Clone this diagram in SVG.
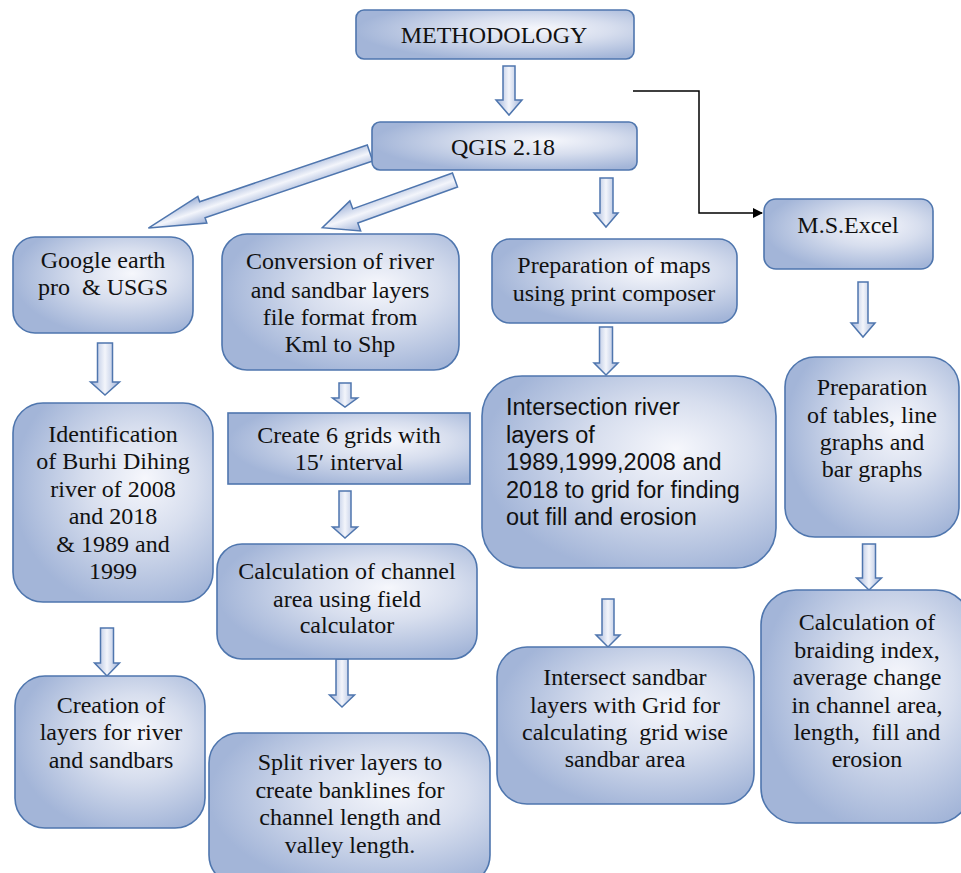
<svg xmlns="http://www.w3.org/2000/svg" width="961" height="873" viewBox="0 0 961 873">
<defs>
<radialGradient id="boxg" cx="0.62" cy="0.42" r="0.62" fx="0.66" fy="0.38">
<stop offset="0" stop-color="#f6f7fc"/>
<stop offset="0.45" stop-color="#d7deee"/>
<stop offset="1" stop-color="#a3b5d8"/>
</radialGradient>
<linearGradient id="arrg" x1="0" y1="0" x2="1" y2="0">
<stop offset="0" stop-color="#9fb2d8"/>
<stop offset="0.5" stop-color="#f3f5fb"/>
<stop offset="1" stop-color="#9fb2d8"/>
</linearGradient>
<linearGradient id="darrg" x1="0" y1="0" x2="0" y2="1">
<stop offset="0" stop-color="#9fb2d8"/>
<stop offset="0.5" stop-color="#f3f5fb"/>
<stop offset="1" stop-color="#9fb2d8"/>
</linearGradient>
<marker id="ah" markerWidth="10" markerHeight="10" refX="9" refY="5" orient="auto" markerUnits="userSpaceOnUse">
<path d="M0,0 L10,5 L0,10 Z" fill="#000"/>
</marker>
</defs>
<style>
.box{fill:url(#boxg);stroke:#4f76ae;stroke-width:1.6}
.arr{fill:url(#arrg);stroke:#4f76ae;stroke-width:1.5;stroke-linejoin:miter}
.darr{fill:url(#darrg);stroke:#4f76ae;stroke-width:1.5}
.t{font-family:"Liberation Serif","Times New Roman",serif;font-size:24px;fill:#111;text-anchor:middle;white-space:pre}
.s{font-family:"Liberation Sans",Arial,sans-serif;font-size:23.5px;fill:#111;white-space:pre}
.ln{fill:none;stroke:#000;stroke-width:1.5}
</style>
<rect width="961" height="873" fill="#fff"/>

<g id="connectors">
<polygon class="arr" points="503,66 515,66 515,100 522,100 509,115 496,100 503,100"/>
<polygon class="arr" points="600,178 613,178 613,213 618,213 606,227 594,213 600,213"/>
<polygon class="arr" points="858,282 868,282 868,323 875,323 863,337 851,323 858,323"/>
<polygon class="arr" points="97.5,343 112.5,343 112.5,382 119.5,382 105,395 90.5,382 97.5,382"/>
<polygon class="arr" points="339,383 351,383 351,398 357.5,398 345,407 332.5,398 339,398"/>
<polygon class="arr" points="339,491 351,491 351,527 357.5,527 345,538 332.5,527 339,527"/>
<polygon class="arr" points="336,659 348,659 348,695 354.5,695 342,707 329.5,695 336,695"/>
<polygon class="arr" points="100.5,628 113.5,628 113.5,663 119.5,663 107,676 94.5,663 100.5,663"/>
<polygon class="arr" points="599.5,327 612.5,327 612.5,363 618,363 606,375 594,363 599.5,363"/>
<polygon class="arr" points="862.5,544 875.5,544 875.5,578 881.5,578 869,590 856.5,578 862.5,578"/>
<polygon class="arr" points="602,599 614,599 614,635 620,635 608,647 596,635 602,635"/>
<path class="darr" transform="translate(370,153) rotate(161.3)" d="M0,-8.5 L177,-8.5 L177,-14 L234,0 L177,14 L177,8.5 L0,8.5 Z"/>
<path class="darr" transform="translate(455,180) rotate(160.2)" d="M0,-7.5 L106,-7.5 L106,-16 L141,0 L106,16 L106,7.5 L0,7.5 Z"/>
<polyline class="ln" points="633,91 699,91 699,213 762,213" marker-end="url(#ah)"/>
</g>

<g id="methodology">
<rect class="box" x="356" y="10" width="278" height="49" rx="8"/>
<text class="t" x="494" y="43">METHODOLOGY</text>
</g>
<g id="qgis">
<rect class="box" x="372" y="122" width="265" height="48" rx="8"/>
<text class="t" x="503" y="155">QGIS 2.18</text>
</g>
<g id="excel">
<rect class="box" x="764" y="199" width="169" height="70" rx="12"/>
<text class="t" x="848" y="233">M.S.Excel</text>
</g>
<g id="google">
<rect class="box" x="13" y="237" width="180" height="96" rx="22"/>
<text class="t" x="103" y="268">Google earth</text>
<text class="t" x="103" y="295">pro  &amp; USGS</text>
</g>
<g id="conversion">
<rect class="box" x="222" y="234" width="237" height="136" rx="25"/>
<text class="t" x="340" y="269">Conversion of river</text>
<text class="t" x="340" y="298">and sandbar layers</text>
<text class="t" x="340" y="325">file format from</text>
<text class="t" x="340" y="352">Kml to Shp</text>
</g>
<g id="prepmaps">
<rect class="box" x="492" y="239" width="245" height="84" rx="18"/>
<text class="t" x="614" y="273">Preparation of maps</text>
<text class="t" x="614" y="301">using print composer</text>
</g>
<g id="tables">
<rect class="box" x="785" y="357" width="174" height="180" rx="30"/>
<text class="t" x="872" y="395">Preparation</text>
<text class="t" x="872" y="423">of tables, line</text>
<text class="t" x="872" y="450">graphs and</text>
<text class="t" x="872" y="477">bar graphs</text>
</g>
<g id="identification">
<rect class="box" x="13" y="403" width="200" height="199" rx="30"/>
<text class="t" x="113" y="442">Identification</text>
<text class="t" x="113" y="469">of Burhi Dihing</text>
<text class="t" x="113" y="497">river of 2008</text>
<text class="t" x="113" y="524">and 2018</text>
<text class="t" x="113" y="552">&amp; 1989 and</text>
<text class="t" x="113" y="579">1999</text>
</g>
<g id="grids">
<rect class="box" x="228" y="413" width="242" height="71"/>
<text class="t" x="349" y="443">Create 6 grids with</text>
<text class="t" x="349" y="470">15′ interval</text>
</g>
<g id="intersection">
<rect class="box" x="482" y="376" width="294" height="192" rx="40"/>
<text class="s" x="506" y="415">Intersection river</text>
<text class="s" x="506" y="443">layers of</text>
<text class="s" x="506" y="470">1989,1999,2008 and</text>
<text class="s" x="506" y="498">2018 to grid for finding</text>
<text class="s" x="506" y="525">out fill and erosion</text>
</g>
<g id="channelarea">
<rect class="box" x="217" y="544" width="260" height="115" rx="25"/>
<text class="t" x="347" y="579">Calculation of channel</text>
<text class="t" x="347" y="607">area using field</text>
<text class="t" x="347" y="633">calculator</text>
</g>
<g id="creation">
<rect class="box" x="15" y="676" width="190" height="152" rx="30"/>
<text class="t" x="111" y="713">Creation of</text>
<text class="t" x="111" y="740">layers for river</text>
<text class="t" x="111" y="768">and sandbars</text>
</g>
<g id="sandbar">
<rect class="box" x="497" y="647" width="257" height="157" rx="30"/>
<text class="t" x="625" y="685">Intersect sandbar</text>
<text class="t" x="625" y="713">layers with Grid for</text>
<text class="t" x="625" y="740">calculating  grid wise</text>
<text class="t" x="625" y="767">sandbar area</text>
</g>
<g id="braiding">
<rect class="box" x="761" y="590" width="210" height="233" rx="35"/>
<text class="t" x="867" y="630">Calculation of</text>
<text class="t" x="867" y="658">braiding index,</text>
<text class="t" x="867" y="685">average change</text>
<text class="t" x="867" y="713">in channel area,</text>
<text class="t" x="867" y="740">length,  fill and</text>
<text class="t" x="867" y="767">erosion</text>
</g>
<g id="split">
<rect class="box" x="209" y="733" width="281" height="152" rx="30"/>
<text class="t" x="350" y="770">Split river layers to</text>
<text class="t" x="350" y="798">create banklines for</text>
<text class="t" x="350" y="825">channel length and</text>
<text class="t" x="350" y="853">valley length.</text>
</g>
</svg>
